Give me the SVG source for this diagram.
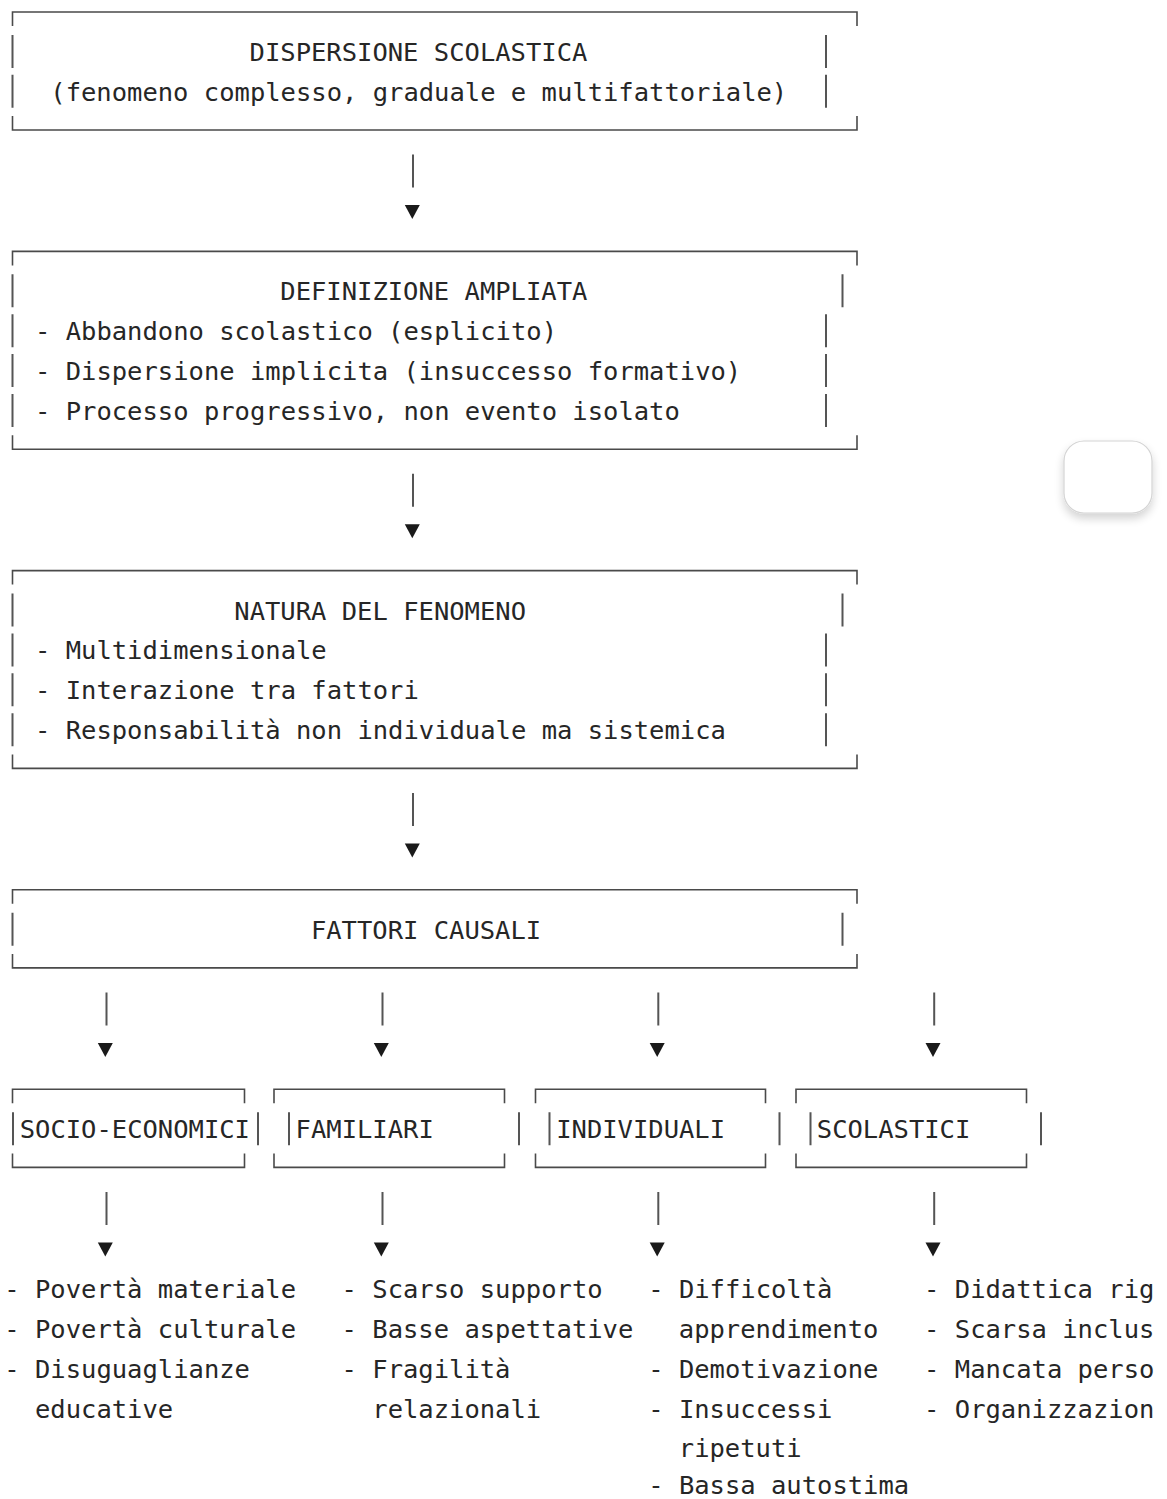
<svg xmlns="http://www.w3.org/2000/svg" xmlns:xlink="http://www.w3.org/1999/xlink" width="1167" height="1499" viewBox="0 0 1167 1499">
<style>
.t{font-family:"DejaVu Sans Mono","Liberation Mono",monospace;font-size:25.5px;fill:#262626}
.b{fill:none;stroke:#4a4a4a;stroke-width:1.6}
.v{fill:none;stroke:#555;stroke-width:2}
.arr{fill:#1a1a1a}
</style>
<defs>
<path id="tri" d="M-7.5,-6.5 H7.5 L0,7.5 Z"/>
<filter id="sh" x="-40%" y="-40%" width="180%" height="200%">
<feGaussianBlur in="SourceAlpha" stdDeviation="5"/>
<feOffset dy="5" result="o"/>
<feComponentTransfer><feFuncA type="linear" slope="0.18"/></feComponentTransfer>
<feMerge><feMergeNode/><feMergeNode in="SourceGraphic"/></feMerge>
</filter>
</defs>
<rect width="1167" height="1499" fill="#ffffff"/>

<g id="dispersione">
<path class="b" d="M12.5 26 V12 H857 V26 M12.5 116 V130 H857 V116"/>
<path class="v" d="M12.5 34.9 V67.9 M12.5 74.8 V107.8 M826 34.9 V67.9 M826 74.8 V107.8"/>
<text class="t" x="249.6" y="60.9">DISPERSIONE SCOLASTICA</text>
<text class="t" x="50.3" y="100.8">(fenomeno complesso, graduale e multifattoriale)</text>
</g>

<g id="definizione">
<path class="b" d="M12.5 265.4 V251.4 H857 V265.4 M12.5 435.2 V449.2 H857 V435.2"/>
<path class="v" d="M12.5 274.3 V307.3 M12.5 314.2 V347.2 M12.5 354.1 V387.1 M12.5 394 V427 M842.5 274.3 V307.3 M826 314.2 V347.2 M826 354.1 V387.1 M826 394 V427"/>
<text class="t" x="280.3" y="300.3">DEFINIZIONE AMPLIATA</text>
<text class="t" x="35" y="340.2">- Abbandono scolastico (esplicito)</text>
<text class="t" x="35" y="380.1">- Dispersione implicita (insuccesso formativo)</text>
<text class="t" x="35" y="420">- Processo progressivo, non evento isolato</text>
</g>

<g id="natura">
<path class="b" d="M12.5 584.6 V570.6 H857 V584.6 M12.5 754.4 V768.4 H857 V754.4"/>
<path class="v" d="M12.5 593.5 V626.5 M12.5 633.4 V666.4 M12.5 673.3 V706.3 M12.5 713.2 V746.2 M842.5 593.5 V626.5 M826 633.4 V666.4 M826 673.3 V706.3 M826 713.2 V746.2"/>
<text class="t" x="234.3" y="619.5">NATURA DEL FENOMENO</text>
<text class="t" x="35" y="659.4">- Multidimensionale</text>
<text class="t" x="35" y="699.3">- Interazione tra fattori</text>
<text class="t" x="35" y="739.2">- Responsabilità non individuale ma sistemica</text>
</g>

<g id="fattori">
<path class="b" d="M12.5 903.8 V889.8 H857 V903.8 M12.5 953.9 V967.9 H857 V953.9"/>
<path class="v" d="M12.5 912.7 V945.7 M842.5 912.7 V945.7"/>
<text class="t" x="310.9" y="938.7">FATTORI CAUSALI</text>
</g>

<g id="socio-economici">
<path class="b" d="M12.5 1103.3 V1089.3 H244.5 V1103.3 M12.5 1153.4 V1167.4 H244.5 V1153.4"/>
<path class="v" d="M13 1112.2 V1145.2 M258 1112.2 V1145.2"/>
<text class="t" x="19.7" y="1138.2">SOCIO-ECONOMICI</text>
</g>

<g id="familiari">
<path class="b" d="M274 1103.3 V1089.3 H504.5 V1103.3 M274 1153.4 V1167.4 H504.5 V1153.4"/>
<path class="v" d="M289 1112.2 V1145.2 M519 1112.2 V1145.2"/>
<text class="t" x="295.6" y="1138.2">FAMILIARI</text>
</g>

<g id="individuali">
<path class="b" d="M535.5 1103.3 V1089.3 H765.5 V1103.3 M535.5 1153.4 V1167.4 H765.5 V1153.4"/>
<path class="v" d="M549.5 1112.2 V1145.2 M779.5 1112.2 V1145.2"/>
<text class="t" x="556.2" y="1138.2">INDIVIDUALI</text>
</g>

<g id="scolastici">
<path class="b" d="M796 1103.3 V1089.3 H1026.5 V1103.3 M796 1153.4 V1167.4 H1026.5 V1153.4"/>
<path class="v" d="M810.5 1112.2 V1145.2 M1041 1112.2 V1145.2"/>
<text class="t" x="816.8" y="1138.2">SCOLASTICI</text>
</g>

<g id="lista-socio-economici">
<text class="t" x="4.3" y="1297.8">- Povertà materiale</text>
<text class="t" x="4.3" y="1337.7">- Povertà culturale</text>
<text class="t" x="4.3" y="1377.6">- Disuguaglianze</text>
<text class="t" x="35" y="1417.5">educative</text>
</g>

<g id="lista-familiari">
<text class="t" x="341.6" y="1297.8">- Scarso supporto</text>
<text class="t" x="341.6" y="1337.7">- Basse aspettative</text>
<text class="t" x="341.6" y="1377.6">- Fragilità</text>
<text class="t" x="372.3" y="1417.5">relazionali</text>
</g>

<g id="lista-individuali">
<text class="t" x="648.2" y="1297.8">- Difficoltà</text>
<text class="t" x="678.8" y="1337.7">apprendimento</text>
<text class="t" x="648.2" y="1377.6">- Demotivazione</text>
<text class="t" x="648.2" y="1417.5">- Insuccessi</text>
<text class="t" x="678.8" y="1457.4">ripetuti</text>
<text class="t" x="648.2" y="1494">- Bassa autostima</text>
</g>

<g id="lista-scolastici">
<text class="t" x="924.1" y="1297.8">- Didattica rig</text>
<text class="t" x="924.1" y="1337.7">- Scarsa inclus</text>
<text class="t" x="924.1" y="1377.6">- Mancata perso</text>
<text class="t" x="924.1" y="1417.5">- Organizzazion</text>
</g>

<g id="connectors">
<path class="v" d="M413 154.6 V187.6 M413 473.8 V506.8 M413 793 V826 M106.5 992.5 V1025.5 M382.5 992.5 V1025.5 M658.3 992.5 V1025.5 M934.2 992.5 V1025.5 M106.5 1192 V1225 M382.5 1192 V1225 M658.3 1192 V1225 M934.2 1192 V1225"/>
<g class="arr">
<use xlink:href="#tri" x="412.3" y="211.5"/>
<use xlink:href="#tri" x="412.3" y="530.7"/>
<use xlink:href="#tri" x="412.3" y="849.9"/>
<use xlink:href="#tri" x="105.3" y="1049.4"/>
<use xlink:href="#tri" x="381.3" y="1049.4"/>
<use xlink:href="#tri" x="657.2" y="1049.4"/>
<use xlink:href="#tri" x="933" y="1049.4"/>
<use xlink:href="#tri" x="105.3" y="1248.9"/>
<use xlink:href="#tri" x="381.3" y="1248.9"/>
<use xlink:href="#tri" x="657.2" y="1248.9"/>
<use xlink:href="#tri" x="933" y="1248.9"/>
</g>
</g>

<g id="floating-button">
<rect x="1064" y="441" width="88" height="72" rx="20" fill="#ffffff" stroke="#d4d4d4" stroke-width="1.2" filter="url(#sh)"/>
</g>
</svg>
